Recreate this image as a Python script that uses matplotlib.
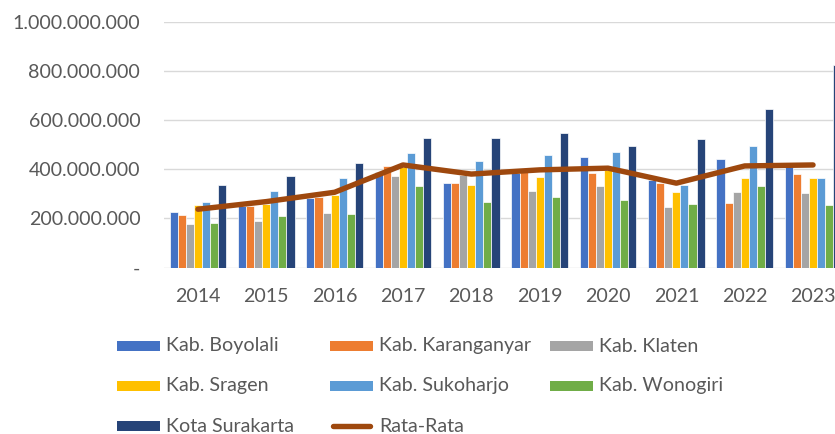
import matplotlib
matplotlib.use("Agg")
import matplotlib.pyplot as plt
from matplotlib.patches import Rectangle
from matplotlib.lines import Line2D
from matplotlib.ticker import FuncFormatter
import numpy as np

years = ["2014", "2015", "2016", "2017", "2018", "2019", "2020", "2021", "2022", "2023"]
M = 1_000_000
boyolali    = [226, 250, 283, 387, 343, 383, 451, 356, 443, 410]
karanganyar = [215, 252, 287, 414, 343, 390, 385, 345, 264, 382]
klaten      = [177, 190, 223, 372, 376, 311, 331, 247, 306, 302]
sragen      = [254, 258, 295, 408, 335, 367, 397, 306, 363, 364]
sukoharjo   = [265, 313, 363, 465, 432, 458, 469, 336, 494, 365]
wonogiri    = [180, 210, 216, 332, 267, 287, 275, 258, 332, 256]
surakarta   = [334, 371, 425, 527, 527, 546, 496, 523, 646, 824]
rata_rata   = [237, 268, 306, 417, 380, 397, 404, 343, 413, 417]

series_names = ["Kab. Boyolali", "Kab. Karanganyar", "Kab. Klaten", "Kab. Sragen",
                "Kab. Sukoharjo", "Kab. Wonogiri", "Kota Surakarta"]
series_vals = [boyolali, karanganyar, klaten, sragen, sukoharjo, wonogiri, surakarta]
colors = ["#4472C4", "#ED7D31", "#A5A5A5", "#FFC000", "#5B9BD5", "#70AD47", "#264478"]
line_name = "Rata-Rata"
line_color = "#9E480E"

plt.rcParams['font.family'] = ['Lato', 'DejaVu Sans']
txt_color = "#595959"
fs = 14.1

W, H = 835, 434
fig = plt.figure(figsize=(W / 100, H / 100), dpi=100)
left_px, right_px = 163.8, 847.2
top_px, base_px = 21.6, 267.5
ax = fig.add_axes([left_px / W, 1 - base_px / H, (right_px - left_px) / W, (base_px - top_px) / H])

x = np.arange(len(years))
bw = 0.118
n = len(series_vals)
for i, (vals, c) in enumerate(zip(series_vals, colors)):
    off = (i - (n - 1) / 2) * bw
    ax.bar(x + off, np.array(vals) * M, width=bw, color=c, edgecolor="white", linewidth=0.5, zorder=2)

ax.plot(x, np.array(rata_rata) * M, color=line_color, linewidth=3.9, solid_capstyle="round",
        solid_joinstyle="round", zorder=3)

ax.set_xlim(-0.5, len(years) - 0.5)
ax.set_ylim(0, 1_000_000_000)
ax.set_yticks(np.arange(0, 1_000_000_001, 200_000_000))
ax.yaxis.set_major_formatter(FuncFormatter(lambda v, p: "-" if v == 0 else f"{int(v):,}".replace(",", ".")))
ax.set_xticks(x)
ax.set_xticklabels(years)
ax.grid(axis="y", color="#D9D9D9", linewidth=1.0, zorder=0)
ax.set_axisbelow(True)
for s in ax.spines.values():
    s.set_visible(False)
ax.tick_params(axis="both", length=0, labelsize=fs, labelcolor=txt_color)
ax.tick_params(axis="y", pad=17)
ax.tick_params(axis="x", pad=14.5)

# legend drawn manually
col_x = [117, 330, 550]
row_y = [346, 386, 426]
items = [(series_names[0], colors[0], "bar"), (series_names[1], colors[1], "bar"), (series_names[2], colors[2], "bar"),
         (series_names[3], colors[3], "bar"), (series_names[4], colors[4], "bar"), (series_names[5], colors[5], "bar"),
         (series_names[6], colors[6], "bar"), (line_name, line_color, "line")]
for k, (name, c, kind) in enumerate(items):
    r, cidx = divmod(k, 3)
    px, py = col_x[cidx], row_y[r]
    if kind == "bar":
        fig.patches.append(Rectangle((px / W, 1 - (py + 5) / H), 43 / W, 10 / H,
                                     transform=fig.transFigure, facecolor=c, edgecolor="none"))
    else:
        fig.lines.append(Line2D([(px + 3) / W, (px + 40) / W], [1 - py / H, 1 - py / H],
                                transform=fig.transFigure, color=c, linewidth=3.9, solid_capstyle="round"))
    fig.text((px + 49) / W, 1 - py / H, name, fontsize=fs, color=txt_color, va="center", ha="left")

fig.savefig("out.png", dpi=100)
